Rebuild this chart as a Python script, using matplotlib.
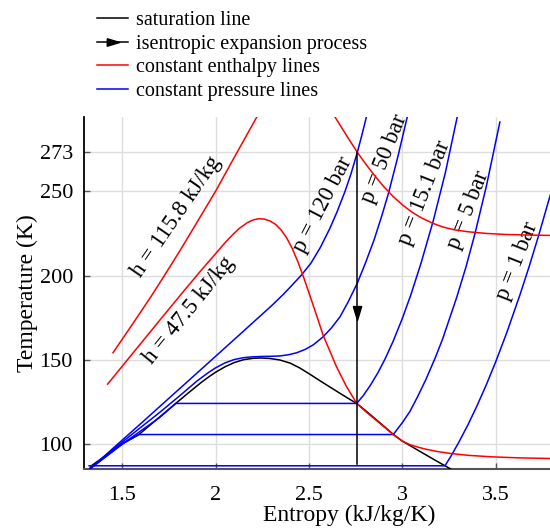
import matplotlib
matplotlib.use("Agg")
import matplotlib.pyplot as plt
from matplotlib.lines import Line2D
import numpy as np

plt.rcParams['font.family'] = ['Liberation Serif', 'DejaVu Serif']

# saturation dome (black)
sat_s = [1.325, 1.334, 1.50, 1.589, 1.70, 1.786, 1.85, 1.92, 1.96, 2.00, 2.05, 2.10, 2.15,
         2.20, 2.24, 2.29, 2.344, 2.40, 2.45, 2.50, 2.56, 2.612, 2.68, 2.72, 2.755, 2.80,
         2.85, 2.90, 2.951, 3.00, 3.04, 3.08, 3.13, 3.18, 3.228, 3.26]
sat_T = [85.5, 87.4, 100.5, 105.9, 116.3, 124.3, 130.2, 136.5, 139.8, 142.8, 146.0, 148.5,
         150.2, 151.0, 151.2, 150.9, 150.0, 148.1, 145.3, 141.9, 137.6, 134.0, 129.3, 126.6,
         124.3, 120.3, 115.6, 110.9, 106.0, 102.0, 99.4, 96.8, 93.6, 90.4, 87.4, 85.4]

# isentropic expansion
isen_s = [2.758, 2.758]
isen_T = [273.0, 88.3]
arrow_T = 178.0

# constant enthalpy lines (red), NaN splits the part that leaves the plot
h_labels = ['h = 115.8 kJ/kg', 'h = 47.5 kJ/kg']
h1_s = [1.45, 1.55, 1.652, 1.73, 1.809, 1.90, 2.00, 2.10, 2.22, 2.30, np.nan,
        2.60, 2.639, 2.70, 2.758, 2.80, 2.85, 2.90, 2.95, 3.00, 3.05, 3.10, 3.165, 3.22,
        3.28, 3.35, 3.45, 3.55, 3.65, 3.80]
h1_T = [154.3, 170.5, 187.3, 200.8, 214.8, 231.5, 250.0, 270.0, 293.8, 310.0, np.nan,
        301.0, 293.8, 283.0, 273.0, 266.5, 259.3, 252.6, 246.8, 241.8, 237.6, 234.2, 230.8,
        228.6, 227.0, 225.9, 224.9, 224.3, 224.0, 223.7]
h2_s = [1.421, 1.55, 1.70, 1.826, 1.92, 2.00, 2.05, 2.094, 2.13, 2.17, 2.20, 2.23, 2.26,
        2.29, 2.32, 2.35, 2.38, 2.41, 2.44, 2.47, 2.50, 2.53, 2.576, 2.647, 2.701, 2.755,
        2.80, 2.85, 2.90, 2.951, 3.00, 3.04, 3.085, 3.126, 3.19, 3.258, 3.35, 3.48, 3.62,
        3.80]
h2_T = [135.7, 153.2, 173.5, 190.4, 202.8, 213.0, 219.4, 224.5, 228.2, 231.3, 232.9, 233.6,
        233.4, 232.3, 230.3, 227.0, 222.3, 216.0, 208.2, 199.2, 189.6, 179.8, 164.5, 146.0,
        134.2, 124.4, 119.8, 115.2, 110.6, 105.8, 102.0, 99.9, 98.4, 97.2, 95.8, 94.7, 93.6,
        92.7, 92.1, 91.7]

# constant pressure lines (blue)
p_labels = ['p = 120 bar', 'p = 50 bar', 'p = 15.1 bar', 'p = 5 bar', 'p = 1 bar']
p120_s = [1.33, 1.60, 1.90, 2.10, 2.22, 2.30, 2.36, 2.41, 2.461, 2.51, 2.56, 2.612, 2.65,
          2.692, 2.725, 2.758, 2.782, 2.809, 2.83]
p120_T = [85.9, 112.5, 142.3, 162.2, 174.2, 182.2, 188.6, 194.4, 200.5, 207.3, 216.5, 228.0,
          237.7, 249.6, 260.3, 272.7, 282.7, 294.7, 302.0]
p50_s = [1.33, 1.50, 1.70, 1.809, 1.90, 1.96, 2.00, 2.05, 2.10, 2.15, 2.20, 2.25, 2.30,
         2.344, 2.39, 2.434, 2.48, 2.523, 2.576, 2.62, 2.666, 2.71, 2.758, 2.80, 2.848,
         2.89, 2.925, 2.975, 3.023, 3.04]
p50_T = [86.2, 101.5, 119.0, 129.0, 137.6, 142.5, 145.4, 148.3, 150.3, 151.4, 151.9, 152.1,
         152.2, 152.4, 153.1, 154.3, 156.3, 159.0, 163.8, 169.0, 175.6, 184.5, 195.4, 206.8,
         221.0, 235.5, 248.5, 270.0, 292.5, 300.0]
p15_s = [1.33, 1.50, 1.70, 1.786, 2.755, 2.79, 2.83, 2.87, 2.907, 2.95, 3.00, 3.045,
         3.10, 3.165, 3.23, 3.29, 3.31]
p15_T = [85.9, 100.3, 116.0, 124.3, 124.3, 128.9, 135.3, 142.7, 150.6, 161.0, 174.7,
         188.5, 207.4, 232.3, 260.8, 292.0, 302.0]
p5_s = [1.33, 1.50, 1.589, 2.951, 3.00, 3.04, 3.08, 3.126, 3.175, 3.215, 3.29, 3.34,
        3.388, 3.45, 3.522]
p5_T = [85.9, 100.3, 105.9, 105.9, 113.0, 119.5, 128.0, 138.5, 151.1, 162.3, 186.8,
        204.9, 224.5, 253.0, 290.8]
p1_s = [1.322, 3.228, 3.26, 3.30, 3.35, 3.40, 3.45, 3.50, 3.56, 3.63, 3.68, 3.73, 3.80]
p1_T = [87.4, 87.4, 93.1, 100.9, 111.4, 123.0, 135.5, 149.0, 166.5, 188.7, 205.7, 223.8,
        250.7]

# label anchors (s, T) and angles
h_lab_s = [1.791, 1.86]
h_lab_T = [234.8, 179.6]
h_lab_rot = [55.5, 51.0]
p_lab_s = [2.574, 2.905, 3.12, 3.352, 3.614]
p_lab_T = [241.7, 268.9, 248.8, 238.8, 208.3]
p_lab_rot = [62.5, 68.5, 68.5, 68.5, 68.5]

x_ticks = [1.5, 2, 2.5, 3, 3.5]
x_ticklabels = ['1.5', '2', '2.5', '3', '3.5']
y_ticks = [100, 150, 200, 250, 273]

fig = plt.figure(figsize=(5.5, 5.32), dpi=100)
ax = fig.add_axes([84 / 550, 1 - 469 / 532, 466 / 550, 352 / 532])

lw = 1.1
ax.plot(sat_s, sat_T, color='black', lw=lw, zorder=3)
for ps, pT in [(p120_s, p120_T), (p50_s, p50_T), (p15_s, p15_T), (p5_s, p5_T), (p1_s, p1_T)]:
    ax.plot(ps, pT, color='#0000ff', lw=lw, zorder=4)
ax.plot(h1_s, h1_T, color='#ff0000', lw=lw, zorder=5)
ax.plot(h2_s, h2_T, color='#ff0000', lw=lw, zorder=5)

# isentropic line with arrow head in the middle
arrow_down = [(-0.3, 0.5), (0.3, 0.5), (0, -0.5), (-0.3, 0.5)]
ax.plot(isen_s, isen_T, color='black', lw=lw, zorder=6)
ax.plot([isen_s[0]], [arrow_T], color='black', marker=arrow_down, markersize=10,
        linestyle='none', zorder=6)

for lab, s, T, r in zip(h_labels, h_lab_s, h_lab_T, h_lab_rot):
    ax.text(s, T, lab, rotation=r, ha='center', va='center', rotation_mode='anchor',
            fontsize=16.5)
for lab, s, T, r in zip(p_labels, p_lab_s, p_lab_T, p_lab_rot):
    ax.text(s, T, lab, rotation=r, ha='center', va='center', rotation_mode='anchor',
            fontsize=16.5)

ax.set_xlim(1.2946, 3.7905)
ax.set_ylim(85.5, 293.8)
ax.set_xticks(x_ticks)
ax.set_xticklabels(x_ticklabels)
ax.set_yticks(y_ticks)
ax.grid(True, color='#dddddd', lw=1.0, zorder=0)
ax.set_axisbelow(True)
ax.tick_params(direction='in', length=4, width=1, color='#555555', labelsize=16)
ax.tick_params(axis='y', pad=8)
ax.tick_params(axis='x', pad=12)
for side in ['top', 'right']:
    ax.spines[side].set_visible(False)
ax.spines['left'].set_color('black')
ax.spines['left'].set_linewidth(1.3)
ax.spines['bottom'].set_color('#555555')
ax.spines['bottom'].set_linewidth(1.5)

ax.set_xlabel('Entropy (kJ/kg/K)', fontsize=17, labelpad=0)
ax.xaxis.label.set_x(0.569)
ax.set_ylabel('Temperature (K)', fontsize=17, labelpad=1)

arrow_right = [(-0.5, 0.3), (-0.5, -0.3), (0.5, 0), (-0.5, 0.3)]
handles = [
    Line2D([], [], color='black', lw=lw),
    Line2D([], [], color='black', lw=lw, marker=arrow_right, markersize=9),
    Line2D([], [], color='#ff0000', lw=lw),
    Line2D([], [], color='#0000ff', lw=lw),
]
labels = ['saturation line', 'isentropic expansion process', 'constant enthalpy lines',
          'constant pressure lines']
fig.legend(handles, labels, loc='upper left', bbox_to_anchor=(97 / 550, 1 - 11 / 532),
           frameon=False, fontsize=14.5, handlelength=1.55, handletextpad=0.4,
           labelspacing=0.22, borderpad=0, borderaxespad=0, numpoints=1)

fig.savefig('out.png', dpi=100)
